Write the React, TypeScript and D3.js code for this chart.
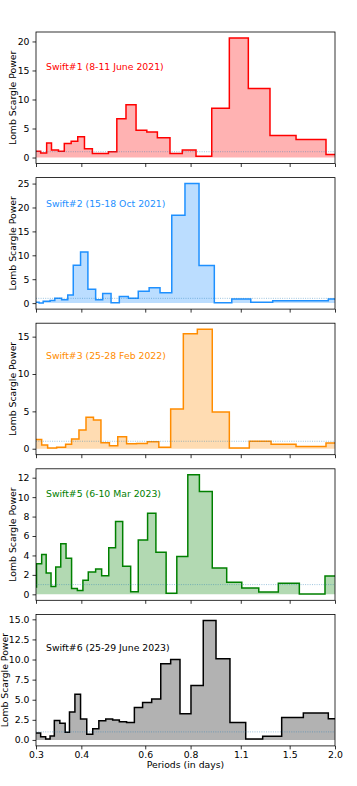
import React, { useRef, useEffect } from "react";
import * as d3 from "d3";

const obsNames = [
  "Swift#1 (8-11 June 2021)",
  "Swift#2 (15-18 Oct 2021)",
  "Swift#3 (25-28 Feb 2022)",
  "Swift#5 (6-10 Mar 2023)",
  "Swift#6 (25-29 June 2023)",
];

const periodTicks = [0.3, 0.4, 0.6, 0.8, 1.1, 1.5, 2.0];

// bin start periods (days) + Lomb-Scargle power for each bin
const periods1 = [0.300, 0.309, 0.321, 0.331, 0.346, 0.359, 0.375, 0.391, 0.408, 0.429, 0.450, 0.475, 0.501, 0.531, 0.566, 0.606, 0.648, 0.702, 0.759, 0.828, 0.915, 1.023, 1.154, 1.324, 1.562, 1.889];
const power1 = [1.1, 0.8, 2.5, 1.3, 1.1, 2.4, 2.8, 3.6, 1.5, 0.7, 0.7, 1.0, 6.7, 9.1, 4.7, 4.4, 3.4, 0.7, 1.3, 0.2, 8.5, 20.6, 11.9, 3.8, 3.1, 0.5];

const periods2 = [0.300, 0.306, 0.314, 0.328, 0.338, 0.353, 0.367, 0.380, 0.398, 0.417, 0.438, 0.458, 0.483, 0.509, 0.539, 0.574, 0.615, 0.659, 0.710, 0.772, 0.844, 0.930, 1.039, 1.172, 1.347, 1.917];
const power2 = [0.2, 0.0, 0.4, 0.55, 1.0, 0.7, 1.7, 7.9, 10.7, 2.9, 0.7, 2.0, 0.1, 1.4, 1.0, 2.5, 3.2, 2.15, 18.4, 25.0, 7.85, 0.07, 0.85, 0.2, 0.5, 0.85];

const periods3 = [0.300, 0.311, 0.323, 0.342, 0.362, 0.376, 0.394, 0.412, 0.432, 0.453, 0.478, 0.504, 0.533, 0.568, 0.608, 0.654, 0.705, 0.764, 0.835, 0.918, 1.023, 1.161, 1.333, 1.562, 1.889];
const power3 = [1.24, 0.5, 0.1, 0.2, 0.6, 1.3, 2.5, 4.2, 3.85, 0.8, 0.4, 1.6, 0.65, 0.7, 0.95, 0.2, 5.3, 15.4, 16.0, 4.9, 0.1, 1.0, 0.6, 0.3, 0.75];

const periods4 = [0.300, 0.301, 0.311, 0.320, 0.330, 0.340, 0.351, 0.363, 0.376, 0.390, 0.404, 0.418, 0.438, 0.455, 0.476, 0.497, 0.520, 0.547, 0.574, 0.609, 0.642, 0.685, 0.733, 0.786, 0.846, 0.918, 1.006, 1.107, 1.233, 1.396, 1.595, 1.877];
const power4 = [0.75, 3.14, 4.1, 2.2, 0.8, 2.8, 5.2, 3.7, 0.6, 0.4, 1.45, 2.3, 2.6, 1.9, 4.8, 7.5, 2.9, 0.27, 5.6, 8.35, 4.33, 0.1, 3.9, 12.3, 10.57, 2.7, 1.23, 0.65, 0.24, 1.13, 0.03, 1.88];

const periods5 = [0.300, 0.309, 0.319, 0.328, 0.337, 0.349, 0.361, 0.371, 0.384, 0.398, 0.414, 0.430, 0.447, 0.467, 0.488, 0.509, 0.533, 0.560, 0.590, 0.625, 0.662, 0.705, 0.748, 0.802, 0.867, 0.940, 1.027, 1.135, 1.264, 1.426, 1.636, 1.917];
const power5 = [0.87, 0.4, 0.12, 0.5, 2.43, 2.06, 0.95, 3.46, 5.69, 2.6, 0.7, 1.4, 2.39, 2.6, 2.47, 2.27, 2.18, 4.04, 4.66, 5.1, 9.48, 10.0, 3.25, 6.76, 14.87, 10.1, 2.18, 0.12, 0.45, 2.8, 3.34, 2.64];

const yTicks1 = [0, 5, 10, 15, 20];
const yTicks2 = [0, 5, 10, 15, 20, 25];
const yTicks3 = [0, 5, 10, 15];
const yTicks4 = [0, 2, 4, 6, 8, 10, 12];
const yTicks5 = [0, 2.5, 5, 7.5, 10, 12.5, 15];

const series = [
  { periods: periods1, power: power1, ticks: yTicks1 },
  { periods: periods2, power: power2, ticks: yTicks2 },
  { periods: periods3, power: power3, ticks: yTicks3 },
  { periods: periods4, power: power4, ticks: yTicks4 },
  { periods: periods5, power: power5, ticks: yTicks5 },
];

const colors = ["#ff0000", "#1e90ff", "#ff8c00", "#008000", "#000000"];
const labelDy = [35, 27, 33, 26, 34];
const ylabelX = [13.3, 13.3, 13.3, 13.3, 5.5];

const W = 357, H = 786;
const plotL = 36, plotR = 335, top0 = 32, panelH = 131.5, pitch = 145.6;
const font = "DejaVu Sans";
const fs = 9.3;

const App = () => {
  const ref = useRef<SVGSVGElement>(null);

  useEffect(() => {
    const svg = d3.select(ref.current);
    svg.selectAll("*").remove();

    const x = d3.scaleLog().domain([0.3, 2.0]).range([plotL, plotR]);

    series.forEach((s, i) => {
      const top = top0 + i * pitch;
      const bottom = top + panelH;
      const yMax = d3.max(s.power) as number;
      const y = d3.scaleLinear().domain([-0.05 * yMax, 1.05 * yMax]).range([bottom, top]);
      const pts: [number, number][] = s.periods.map((p, j) => [p, s.power[j]]);
      pts.push([2.0, s.power[s.power.length - 1]]);

      svg.append("clipPath").attr("id", "clip" + i)
        .append("rect").attr("x", plotL).attr("y", top).attr("width", plotR - plotL).attr("height", panelH);

      const g = svg.append("g").attr("clip-path", `url(#clip${i})`);

      const area = d3.area<[number, number]>()
        .x(d => x(d[0])).y0(y(0)).y1(d => y(d[1]))
        .curve(d3.curveStepAfter);
      const line = d3.line<[number, number]>()
        .x(d => x(d[0])).y(d => y(d[1]))
        .curve(d3.curveStepAfter);

      g.append("path").attr("d", area(pts)).attr("fill", colors[i]).attr("fill-opacity", 0.3);
      g.append("path").attr("d", line(pts)).attr("fill", "none")
        .attr("stroke", colors[i]).attr("stroke-width", 1.5).attr("stroke-linejoin", "miter");

      g.append("line").attr("x1", plotL).attr("x2", plotR).attr("y1", y(1)).attr("y2", y(1))
        .attr("stroke", "#1f77b4").attr("stroke-opacity", 0.55).attr("stroke-width", 0.8)
        .attr("stroke-dasharray", "1,1.3");

      svg.append("rect").attr("x", plotL).attr("y", top).attr("width", plotR - plotL).attr("height", panelH)
        .attr("fill", "none").attr("stroke", "#000").attr("stroke-width", 0.8);

      const yAxis = svg.append("g").attr("transform", `translate(${plotL},0)`)
        .call(d3.axisLeft(y).tickValues(s.ticks).tickSize(3.5).tickPadding(3)
          .tickFormat(d => (i === 4 ? d3.format(".1f")(d as number) : String(d))));
      yAxis.select(".domain").remove();

      const xAxis = svg.append("g").attr("transform", `translate(0,${bottom})`)
        .call(d3.axisBottom(x).tickValues(periodTicks).tickSize(3.5).tickPadding(2)
          .tickFormat(d => (i === 4 ? d3.format(".1f")(d as number) : "")));
      xAxis.select(".domain").remove();

      [yAxis, xAxis].forEach(a => {
        a.selectAll("text").attr("font-family", font).attr("font-size", fs).attr("fill", "#000");
        a.selectAll("line").attr("stroke", "#000").attr("stroke-width", 0.8);
      });

      svg.append("text")
        .attr("transform", `translate(${ylabelX[i]},${(top + bottom) / 2}) rotate(-90)`)
        .attr("text-anchor", "middle").attr("dominant-baseline", "middle")
        .attr("font-family", font).attr("font-size", fs).attr("fill", "#000")
        .text("Lomb Scargle Power");

      svg.append("text")
        .attr("x", 46).attr("y", top + labelDy[i])
        .attr("dominant-baseline", "middle")
        .attr("font-family", font).attr("font-size", fs).attr("fill", colors[i])
        .text(obsNames[i]);
    });

    svg.append("text")
      .attr("x", (plotL + plotR) / 2).attr("y", 768)
      .attr("text-anchor", "middle")
      .attr("font-family", font).attr("font-size", fs).attr("fill", "#000")
      .text("Periods (in days)");
  }, []);

  return (
    <svg ref={ref} width={W} height={H}
      style={{ position: "absolute", left: 0, top: 0, background: "#fff" }} />
  );
};

export default App;
